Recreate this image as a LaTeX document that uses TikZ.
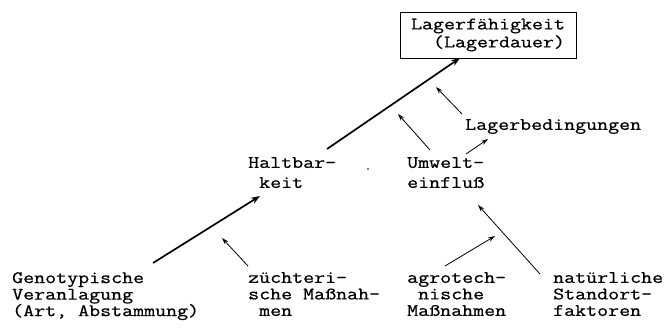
\documentclass[tikz,border=0pt]{standalone}
\usepackage{fontspec}
\newfontfamily\tw[FakeStretch=1.22,FakeBold=0.7]{Latin Modern Mono}
\usetikzlibrary{arrows.meta}
\newcommand\twset[1]{\tw\fontsize{17.5}{#1}\selectfont\lineskiplimit=-20pt}
\begin{document}
\begin{tikzpicture}[x=1pt,y=-1pt,
  lbl/.style={font=\twset{16.5}, inner sep=0pt, align=left, anchor=north west},
  midlbl/.style={lbl, font=\twset{20}},
  strong/.style={line width=1.7pt, -{Stealth[length=9pt,width=6.5pt]}},
  weak/.style={line width=0.8pt, -{Stealth[length=7pt,width=4.5pt]}}]
\path[use as bounding box] (0,0) rectangle (672,327);

% goal box
\node[draw, line width=0.9pt, inner sep=0pt, minimum width=176pt, minimum height=46pt,
      align=right, font=\twset{18}] (goal) at (488,35)
      {Lagerfähigkeit\\(Lagerdauer)};

% intermediate factors
\node[midlbl] (halt) at (248,157) {Haltbar-\\\phantom{x}keit};
\node[midlbl] (umw) at (407,157) {Umwelt-\\einfluß};
\node[lbl] (lager) at (465,119) {Lagerbedingungen};
\fill (368,169) circle (0.8pt);

% basic factors
\node[lbl] (geno) at (12,272) {Genotypische\\Veranlagung\\(Art, Abstammung)};
\node[lbl] (zucht) at (248,272) {züchteri-\\sche Maßnah-\\\phantom{x}men};
\node[lbl] (agro) at (407,272) {agrotech-\\\phantom{x}nische\\Maßnahmen};
\node[lbl] (natur) at (553,272) {natürliche\\Standort-\\faktoren};

% connector end points
\coordinate (haltTop) at (327,149);
\coordinate (goalFoot) at (460,58);
\coordinate (lagerTail) at (462,114);
\coordinate (lagerTip) at (436,87);
\coordinate (umwTail) at (430,150);
\coordinate (umwTip) at (398,114);
\coordinate (umwRight) at (466,154);
\coordinate (lagerFoot) at (488,139);
\coordinate (genoTail) at (153,263);
\coordinate (haltFoot) at (260,196);
\coordinate (zuchtTail) at (248,266);
\coordinate (zuchtTip) at (222,238);
\coordinate (agroTail) at (445,266);
\coordinate (agroTip) at (495,236);
\coordinate (naturTail) at (540,274);
\coordinate (umwFoot) at (478,205);

\draw[strong] (haltTop) -- (goalFoot);
\draw[weak] (lagerTail) -- (lagerTip);
\draw[weak] (umwTail) -- (umwTip);
\draw[weak] (umwRight) -- (lagerFoot);
\draw[strong] (genoTail) -- (haltFoot);
\draw[weak] (zuchtTail) -- (zuchtTip);
\draw[weak] (agroTail) -- (agroTip);
\draw[weak] (naturTail) -- (umwFoot);
\end{tikzpicture}
\end{document}
